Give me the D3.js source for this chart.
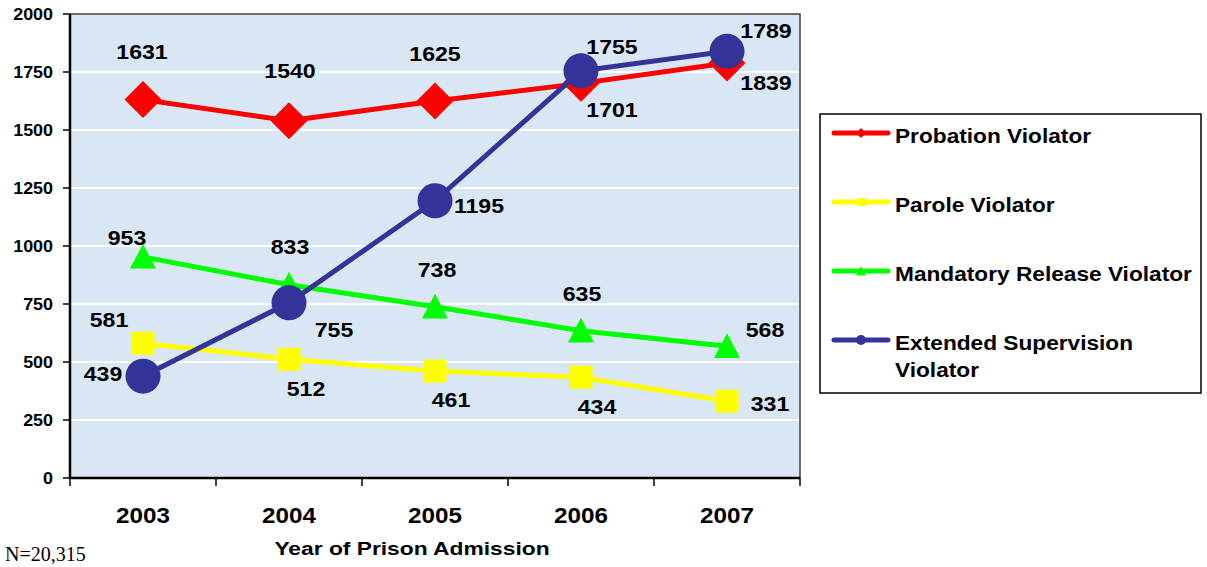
<!DOCTYPE html>
<html>
<head>
<meta charset="utf-8">
<script src="https://cdn.jsdelivr.net/npm/d3@7"></script>
<style>
  body { margin: 0; background: #fff; }
  svg { display: block; }
  text { font-family: "Liberation Sans", Arial, sans-serif; font-weight: bold; fill: #000; }
</style>
</head>
<body>
<svg width="1207" height="567"></svg>
<script>
// chart values
var years = ["2003", "2004", "2005", "2006", "2007"];
var probation = [1631, 1540, 1625, 1701, 1789];
var parole = [581, 512, 461, 434, 331];
var mandatory = [953, 833, 738, 635, 568];
var extended = [439, 755, 1195, 1755, 1839];
var yTicks = [0, 250, 500, 750, 1000, 1250, 1500, 1750, 2000];

// label offsets from each point (layout only)
var probationLabelOff = [[-1, -41], [1, -43], [0, -40], [31, 34], [39, -25]];
var paroleLabelOff = [[-34, -16], [17, 37], [16, 36], [16, 37], [43, 10]];
var mandatoryLabelOff = [[-16, -12], [1, -31], [2, -30], [1, -30], [38, -9]];
var extendedLabelOff = [[-40, 5], [45, 34], [44, 12], [31, -17], [39, 39]];

var series = [
  { name: "Probation Violator", values: probation, color: "#ff0000", marker: "diamond", off: probationLabelOff },
  { name: "Parole Violator", values: parole, color: "#ffff00", marker: "square", off: paroleLabelOff },
  { name: "Mandatory Release Violator", values: mandatory, color: "#00ff00", marker: "triangle", off: mandatoryLabelOff },
  { name: "Extended Supervision Violator", values: extended, color: "#333399", marker: "circle", off: extendedLabelOff }
];

var svg = d3.select("svg");
var plot = { left: 70, right: 800, top: 14, bottom: 478 };
var SX = 1.1; // glyphs in the source are a bit wide

var x = d3.scaleBand().domain(years).range([plot.left, plot.right]);
var y = d3.scaleLinear().domain([0, 2000]).range([plot.bottom, plot.top]);

function cx(i) { return x(years[i]) + x.bandwidth() / 2; }

function addText(g, tx, ty, str, size, anchor, sx) {
  return g.append("text")
    .attr("transform", "translate(" + tx + "," + ty + ") scale(" + (sx || SX) + ",1)")
    .attr("text-anchor", anchor || "middle")
    .style("font-size", size + "px")
    .text(str);
}

// plot background
svg.append("rect")
  .attr("x", plot.left).attr("y", plot.top)
  .attr("width", plot.right - plot.left).attr("height", plot.bottom - plot.top)
  .attr("fill", "#d9e7f5");

// gridlines
svg.append("g").selectAll("line")
  .data(yTicks.filter(function(d) { return d > 0 && d < 2000; }))
  .enter().append("line")
  .attr("x1", plot.left).attr("x2", plot.right)
  .attr("y1", function(d) { return y(d); }).attr("y2", function(d) { return y(d); })
  .attr("stroke", "#ffffff").attr("stroke-width", 2);

// top/right border
svg.append("path")
  .attr("d", "M" + plot.left + "," + plot.top + "H" + plot.right + "V" + plot.bottom)
  .attr("fill", "none").attr("stroke", "#404040").attr("stroke-width", 1.5);

// y axis
var yAxis = svg.append("g");
yAxis.append("line")
  .attr("x1", plot.left).attr("x2", plot.left)
  .attr("y1", plot.top).attr("y2", plot.bottom + 1)
  .attr("stroke", "#000").attr("stroke-width", 2.5);
yTicks.forEach(function(t) {
  yAxis.append("line")
    .attr("x1", plot.left - 7).attr("x2", plot.left)
    .attr("y1", y(t)).attr("y2", y(t))
    .attr("stroke", "#000").attr("stroke-width", 1.5);
  addText(yAxis, 53, y(t) + 5.5, t, 16, "end", 1.12);
});

// x axis
var xAxis = svg.append("g");
xAxis.append("line")
  .attr("x1", plot.left - 1).attr("x2", plot.right)
  .attr("y1", plot.bottom).attr("y2", plot.bottom)
  .attr("stroke", "#000").attr("stroke-width", 2.5);
years.forEach(function(yr, i) {
  xAxis.append("line")
    .attr("x1", x(yr)).attr("x2", x(yr))
    .attr("y1", plot.bottom).attr("y2", plot.bottom + 8)
    .attr("stroke", "#000").attr("stroke-width", 1.5);
  addText(xAxis, cx(i), 523, yr, 22, "middle");
});
xAxis.append("line")
  .attr("x1", plot.right).attr("x2", plot.right)
  .attr("y1", plot.bottom).attr("y2", plot.bottom + 8)
  .attr("stroke", "#000").attr("stroke-width", 1.5);

addText(svg, 412, 555, "Year of Prison Admission", 19, "middle", 1.2);

svg.append("text")
  .attr("x", 5).attr("y", 561)
  .style("font-family", "'Liberation Serif', 'Times New Roman', serif")
  .style("font-weight", "normal")
  .style("font-size", "20px")
  .text("N=20,315");

// markers
function drawMarker(g, type, px, py, s, color) {
  if (type === "circle") {
    g.append("circle").attr("cx", px).attr("cy", py).attr("r", s).attr("fill", color);
  } else if (type === "square") {
    g.append("rect").attr("x", px - s).attr("y", py - s).attr("width", 2 * s).attr("height", 2 * s).attr("fill", color);
  } else if (type === "diamond") {
    g.append("path").attr("d", "M" + px + "," + (py - s) + "L" + (px + s) + "," + py + "L" + px + "," + (py + s) + "L" + (px - s) + "," + py + "Z").attr("fill", color);
  } else {
    g.append("path").attr("d", "M" + px + "," + (py - s) + "L" + (px + s) + "," + (py + s * 0.9) + "L" + (px - s) + "," + (py + s * 0.9) + "Z").attr("fill", color);
  }
}
var markerSize = { diamond: 18.5, square: 11.5, triangle: 13, circle: 17.5 };

var line = d3.line()
  .x(function(d, i) { return cx(i); })
  .y(function(d) { return y(d); });

var seriesG = svg.append("g");
series.forEach(function(s) {
  var g = seriesG.append("g");
  g.append("path")
    .attr("d", line(s.values))
    .attr("fill", "none")
    .attr("stroke", s.color)
    .attr("stroke-width", 5);
  s.values.forEach(function(v, i) {
    drawMarker(g, s.marker, cx(i), y(v), markerSize[s.marker], s.color);
  });
});

// data labels on top
var labels = svg.append("g");
series.forEach(function(s) {
  s.values.forEach(function(v, i) {
    addText(labels, cx(i) + s.off[i][0], y(v) + s.off[i][1], v, 21, "middle");
  });
});

// legend
var legend = svg.append("g");
legend.append("rect")
  .attr("x", 820).attr("y", 114).attr("width", 381).attr("height", 279)
  .attr("fill", "#fff").attr("stroke", "#000").attr("stroke-width", 1.5);
var legendY = [133, 202, 271, 340];
var legendMarker = { diamond: 5, square: 4, triangle: 5, circle: 5 };
series.forEach(function(s, i) {
  legend.append("line")
    .attr("x1", 834).attr("x2", 888)
    .attr("y1", legendY[i]).attr("y2", legendY[i])
    .attr("stroke", s.color).attr("stroke-width", 5).attr("stroke-linecap", "round");
  drawMarker(legend, s.marker, 861, legendY[i], legendMarker[s.marker], s.color);
});
addText(legend, 895, 143, "Probation Violator", 21, "start", 1.08);
addText(legend, 895, 212, "Parole Violator", 21, "start", 1.08);
addText(legend, 895, 281, "Mandatory Release Violator", 21, "start", 1.08);
addText(legend, 895, 350, "Extended Supervision", 21, "start", 1.08);
addText(legend, 895, 377, "Violator", 21, "start", 1.08);
</script>
</body>
</html>
